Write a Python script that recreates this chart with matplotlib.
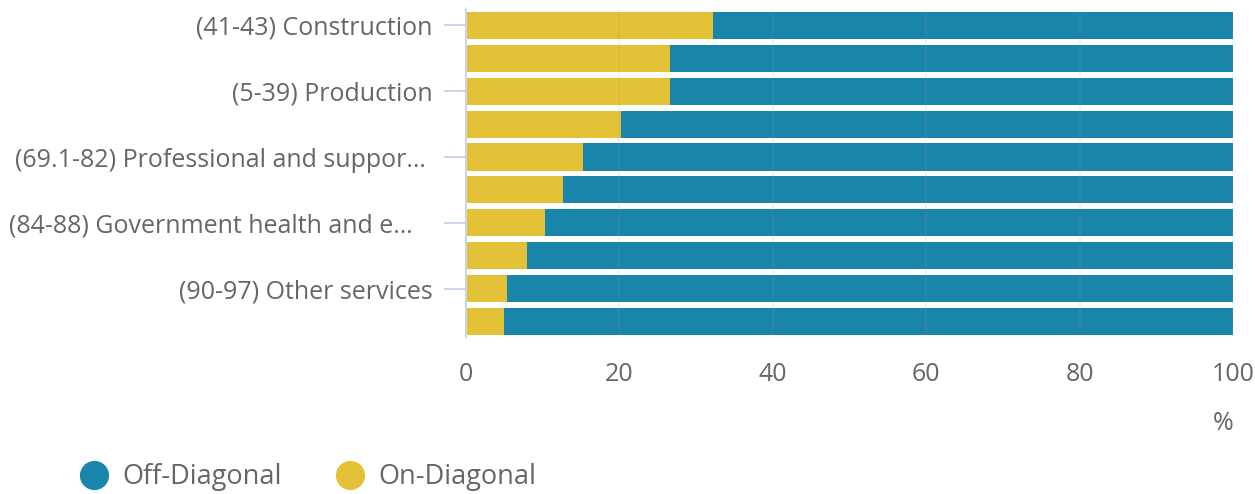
import matplotlib.pyplot as plt
from matplotlib.lines import Line2D

plt.rcParams['font.family'] = ['Open Sans', 'DejaVu Sans']

# data, top bar first
categories = ['(41-43) Construction', '', '(5-39) Production', '',
              '(69.1-82) Professional and suppor\u2026 ', '',
              '(84-88) Government health and e\u2026   ', '',
              '(90-97) Other services', '']
on_diag = [32.2, 26.6, 26.6, 20.2, 15.3, 12.6, 10.3, 7.95, 5.35, 5.0]
off_diag = [100 - v for v in on_diag]
xticks = [0, 20, 40, 60, 80, 100]

blue = '#1a85ab'
yellow = '#e3c237'
grey = '#666666'

fig = plt.figure(figsize=(12.55, 4.94), dpi=100)
ax = fig.add_axes([0.3713, 0.3178, 0.6112, 0.662])

ypos = list(range(len(categories)))
ax.barh(ypos, on_diag, height=0.82, color=yellow, zorder=2)
ax.barh(ypos, off_diag, left=on_diag, height=0.82, color=blue, zorder=2)

ax.set_xlim(0, 100)
ax.set_ylim(9.46, -0.46)
ax.set_xticks(xticks)
ax.set_xticklabels([str(t) for t in xticks])
for x in xticks[1:]:
    ax.axvline(x, color='#9a9a9a', lw=1.2, alpha=0.15, zorder=3)

lab_pos = [i for i, c in enumerate(categories) if c]
ax.set_yticks(lab_pos)
ax.set_yticklabels([categories[i] for i in lab_pos])

for s in ['top', 'right', 'bottom']:
    ax.spines[s].set_visible(False)
ax.spines['left'].set_color('#ccd6eb')
ax.spines['left'].set_linewidth(1.5)

ax.tick_params(axis='y', length=16, width=1.5, color='#ccd6eb', labelsize=18,
               labelcolor=grey, pad=8)
ax.tick_params(axis='x', length=0, labelsize=18, labelcolor=grey, pad=18)

ax.set_xlabel('%', fontsize=18, color=grey, loc='right', labelpad=17)

handles = [Line2D([], [], marker='o', ls='', markersize=20, color=blue),
           Line2D([], [], marker='o', ls='', markersize=20, color=yellow)]
fig.legend(handles, ['Off-Diagonal', 'On-Diagonal'], loc='lower left',
           bbox_to_anchor=(0.034, -0.044), ncol=2, frameon=False, fontsize=19.5,
           labelcolor=grey, handletextpad=0.05, columnspacing=1.5)

fig.savefig('out.png', dpi=100)
